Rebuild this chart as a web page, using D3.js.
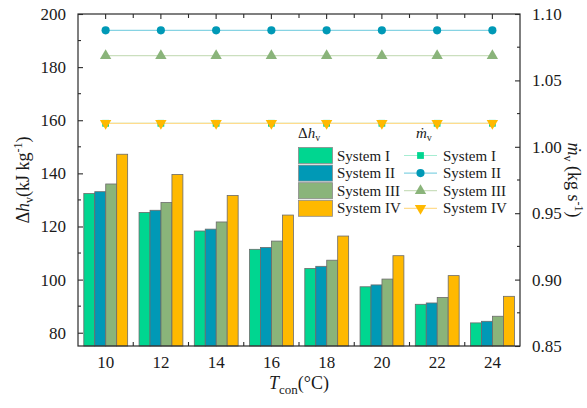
<!DOCTYPE html>
<html>
<head>
<meta charset="utf-8">
<script src="https://cdn.jsdelivr.net/npm/d3@7/dist/d3.min.js"></script>
<style>
  html, body { margin: 0; padding: 0; background: #fff; }
  svg { display: block; font-family: "Liberation Serif", "Times New Roman", serif; }
</style>
</head>
<body>
<svg id="chart" width="587" height="408"></svg>
<script>
// Condensation temperature (°C)
const categories = ["10", "12", "14", "16", "18", "20", "22", "24"];
const systems = ["System I", "System II", "System III", "System IV"];

// Latent heat difference Δh_v (kJ kg-1)
const dhSystemI   = [132.4, 125.3, 118.3, 111.4, 104.2, 97.3, 90.7, 83.7];
const dhSystemII  = [133.1, 126.1, 119.0, 112.1, 105.0, 98.0, 91.2, 84.3];
const dhSystemIII = [136.0, 129.0, 121.7, 114.5, 107.3, 100.2, 93.3, 86.2];
const dhSystemIV  = [147.2, 139.6, 131.7, 124.3, 116.4, 109.0, 101.5, 93.7];

// Vapour mass flow rate ṁ_v (kg s-1)
const mvSystemI   = [1.0177, 1.0177, 1.0177, 1.0177, 1.0177, 1.0177, 1.0177, 1.0177];
const mvSystemII  = [1.0877, 1.0877, 1.0877, 1.0877, 1.0877, 1.0877, 1.0877, 1.0877];
const mvSystemIII = [1.0686, 1.0686, 1.0686, 1.0686, 1.0686, 1.0686, 1.0686, 1.0686];
const mvSystemIV  = [1.0177, 1.0177, 1.0177, 1.0177, 1.0177, 1.0177, 1.0177, 1.0177];

const leftTicks = [80, 100, 120, 140, 160, 180, 200];
const rightTicks = [0.85, 0.90, 0.95, 1.00, 1.05, 1.10];

const barColors = ["#00D690", "#0099B6", "#8AB47A", "#FFB900"];
const lineColors = ["#A6EDD2", "#86D3E3", "#CBDFBE", "#FFDC8E"];
const markerShapes = [d3.symbolSquare, d3.symbolCircle, d3.symbolTriangle, d3.symbolTriangle];

const dhSeries = [dhSystemI, dhSystemII, dhSystemIII, dhSystemIV];
const mvSeries = [mvSystemI, mvSystemII, mvSystemIII, mvSystemIV];

const svg = d3.select("#chart");
const plotL = 78, plotR = 520, plotT = 14, plotB = 346;
const axisColor = "#2b2b2b";

const x = d3.scaleBand().domain(categories).range([plotL, plotR]).padding(0);
const step = x.step();
const xs = d3.scaleBand().domain(systems).range([5.8, step - 5.6]).padding(0);
const yL = d3.scaleLinear().domain([75, 200]).range([plotB, plotT]);
const yR = d3.scaleLinear().domain([0.85, 1.10]).range([plotB, plotT]);

// Bars
const groups = svg.append("g").selectAll("g").data(categories).join("g")
  .attr("transform", d => `translate(${x(d)},0)`);
groups.selectAll("rect")
  .data((c, i) => systems.map((s, k) => ({ s, k, v: dhSeries[k][i] })))
  .join("rect")
  .attr("x", d => xs(d.s))
  .attr("y", d => yL(d.v))
  .attr("width", xs.bandwidth())
  .attr("height", d => plotB - yL(d.v))
  .attr("fill", d => barColors[d.k])
  .attr("stroke", "#6b6b6b")
  .attr("stroke-width", 0.8);

// Mass flow lines with markers
const markerSize = k => (k === 1 ? 52 : (k === 0 ? 46 : 56));
const line = d3.line().x((d, i) => x(categories[i]) + step / 2).y(d => yR(d));
mvSeries.forEach((vals, k) => {
  svg.append("path").attr("d", line(vals))
    .attr("fill", "none").attr("stroke", lineColors[k]).attr("stroke-width", 1.2);
});
mvSeries.forEach((vals, k) => {
  svg.append("g").selectAll("path").data(vals).join("path")
    .attr("d", d3.symbol().type(markerShapes[k]).size(markerSize(k)))
    .attr("transform", (d, i) => `translate(${x(categories[i]) + step / 2},${yR(d)})` + (k === 3 ? " rotate(180)" : ""))
    .attr("fill", barColors[k]);
});

// Frame
svg.append("rect").attr("x", plotL).attr("y", plotT).attr("width", plotR - plotL).attr("height", plotB - plotT)
  .attr("fill", "none").attr("stroke", axisColor).attr("stroke-width", 1.2);

// Left axis (inward ticks)
const gL = svg.append("g").attr("transform", `translate(${plotL},0)`);
gL.call(d3.axisLeft(yL).tickValues(leftTicks).tickSizeInner(-5).tickSizeOuter(0).tickPadding(12));
gL.selectAll(".minor").data(d3.range(90, 200, 20)).join("line").attr("class", "minor")
  .attr("x1", 0).attr("x2", 3).attr("y1", d => yL(d)).attr("y2", d => yL(d));

// Right axis
const gR = svg.append("g").attr("transform", `translate(${plotR},0)`);
gR.call(d3.axisRight(yR).tickValues(rightTicks).tickFormat(d3.format(".2f")).tickSizeInner(-5).tickSizeOuter(0).tickPadding(12));
gR.selectAll(".minor").data([0.875, 0.925, 0.975, 1.025, 1.075]).join("line").attr("class", "minor")
  .attr("x1", 0).attr("x2", -3).attr("y1", d => yR(d)).attr("y2", d => yR(d));

// Bottom axis
const gB = svg.append("g").attr("transform", `translate(0,${plotB})`);
gB.call(d3.axisBottom(x).tickSize(0).tickPadding(10));
gB.selectAll(".minor").data(categories.slice(1)).join("line").attr("class", "minor")
  .attr("x1", d => x(d)).attr("x2", d => x(d)).attr("y1", 0).attr("y2", -4);

// Top axis (mirror ticks)
const gT = svg.append("g");
gT.selectAll(".major").data(categories).join("line").attr("class", "major")
  .attr("x1", d => x(d) + step / 2).attr("x2", d => x(d) + step / 2).attr("y1", plotT).attr("y2", plotT + 5);
gT.selectAll(".minor").data(categories.slice(1)).join("line").attr("class", "minor")
  .attr("x1", d => x(d)).attr("x2", d => x(d)).attr("y1", plotT).attr("y2", plotT + 4);

[gL, gR, gB, gT].forEach(g => {
  g.selectAll(".domain").remove();
  g.selectAll("line").attr("stroke", axisColor).attr("stroke-width", 1.1);
  g.selectAll("text").attr("font-size", 17).attr("fill", "#1a1a1a")
    .attr("font-family", "'Liberation Serif', 'Times New Roman', serif");
});

// Axis titles
const lblL = svg.append("text").attr("transform", `translate(29,${(plotT + plotB) / 2}) rotate(-90)`)
  .attr("text-anchor", "middle").attr("font-size", 18).attr("fill", "#1a1a1a");
lblL.append("tspan").text("Δ");
lblL.append("tspan").attr("font-style", "italic").text("h");
lblL.append("tspan").attr("font-size", 12).attr("dy", 4).text("v");
lblL.append("tspan").attr("dy", -4).text("(kJ kg");
lblL.append("tspan").attr("font-size", 12).attr("dy", -7).text("-1");
lblL.append("tspan").attr("dy", 7).text(")");

const lblR = svg.append("text").attr("transform", `translate(568,${(plotT + plotB) / 2}) rotate(90)`)
  .attr("text-anchor", "middle").attr("font-size", 18).attr("fill", "#1a1a1a");
lblR.append("tspan").attr("font-style", "italic").text("ṁ");
lblR.append("tspan").attr("font-size", 12).attr("dy", 4).text("v");
lblR.append("tspan").attr("dy", -4).text(" (kg s");
lblR.append("tspan").attr("font-size", 12).attr("dy", -7).text("-1");
lblR.append("tspan").attr("dy", 7).text(")");

const lblB = svg.append("text").attr("x", (plotL + plotR) / 2).attr("y", 389)
  .attr("text-anchor", "middle").attr("font-size", 18).attr("fill", "#1a1a1a");
lblB.append("tspan").attr("font-style", "italic").text("T");
lblB.append("tspan").attr("font-size", 13).attr("dy", 5).text("con");
lblB.append("tspan").attr("dy", -5).text("(°C)");

// Legend
const legend = svg.append("g");
const rowY = k => 147.5 + k * 17.6;
const h1 = legend.append("text").attr("x", 298).attr("y", 138).attr("font-size", 15).attr("fill", "#1a1a1a");
h1.append("tspan").text("Δ");
h1.append("tspan").attr("font-style", "italic").text("h");
h1.append("tspan").attr("font-size", 10).attr("dy", 3).text("v");
const h2 = legend.append("text").attr("x", 416).attr("y", 138).attr("font-size", 15).attr("fill", "#1a1a1a");
h2.append("tspan").attr("font-style", "italic").text("ṁ");
h2.append("tspan").attr("font-size", 10).attr("dy", 3).text("v");

systems.forEach((s, k) => {
  legend.append("rect").attr("x", 298.5).attr("y", rowY(k)).attr("width", 34).attr("height", 16)
    .attr("fill", barColors[k]).attr("stroke", "#8a8a8a").attr("stroke-width", 0.8);
  legend.append("text").attr("x", 337).attr("y", rowY(k) + 13).attr("font-size", 15)
    .attr("fill", "#1a1a1a").text(s);
  const cy = rowY(k) + 8;
  legend.append("line").attr("x1", 404).attr("x2", 437).attr("y1", cy).attr("y2", cy)
    .attr("stroke", lineColors[k]).attr("stroke-width", 1.2);
  legend.append("path")
    .attr("d", d3.symbol().type(markerShapes[k]).size(markerSize(k)))
    .attr("transform", `translate(420.5,${cy})` + (k === 3 ? " rotate(180)" : ""))
    .attr("fill", barColors[k]);
  legend.append("text").attr("x", 443).attr("y", rowY(k) + 13).attr("font-size", 15)
    .attr("fill", "#1a1a1a").text(s);
});
</script>
</body>
</html>
